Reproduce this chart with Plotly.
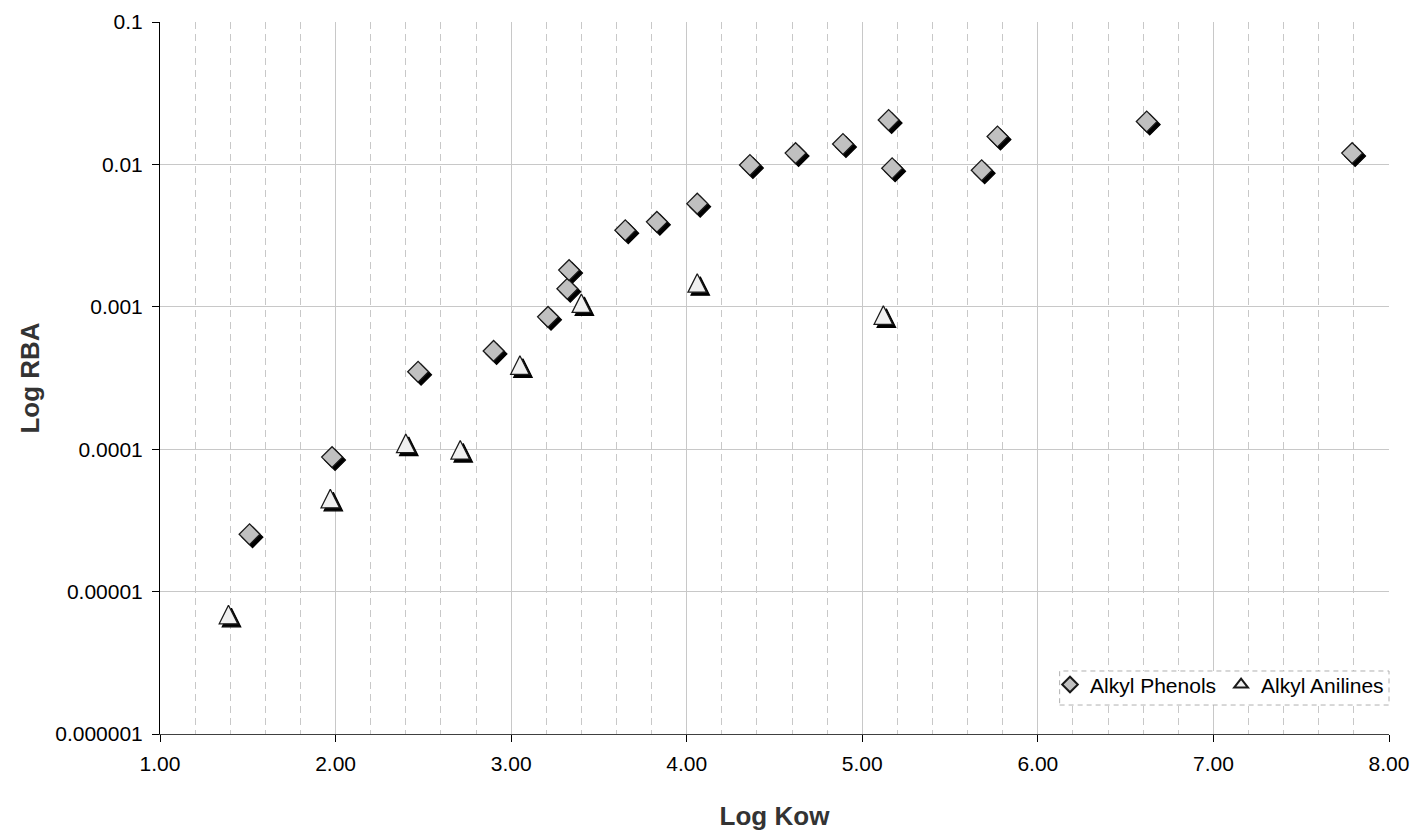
import plotly.graph_objects as go
import numpy as np

# ---- data ----
phenols_x = [1.51, 1.98, 2.47, 2.90, 3.21, 3.32, 3.33, 3.65, 3.83, 4.06, 4.36, 4.62, 4.89, 5.15, 5.17, 5.68, 5.77, 6.62, 7.79]
phenols_y = [2.53e-5, 8.8e-5, 3.5e-4, 4.9e-4, 8.5e-4, 1.34e-3, 1.81e-3, 3.45e-3, 3.95e-3, 5.3e-3, 9.9e-3, 1.2e-2, 1.39e-2, 2.05e-2, 9.4e-3, 9.1e-3, 1.57e-2, 2.0e-2, 1.2e-2]
anilines_x = [1.39, 1.97, 2.40, 2.71, 3.05, 3.40, 4.06, 5.12]
anilines_y = [6.9e-6, 4.5e-5, 1.1e-4, 9.9e-5, 3.9e-4, 1.06e-3, 1.47e-3, 8.75e-4]

ytick_vals = [1e-6, 1e-5, 1e-4, 1e-3, 1e-2, 1e-1]
ytick_text = ["0.000001", "0.00001", "0.0001", "0.001", "0.01", "0.1"]
xtick_vals = [1, 2, 3, 4, 5, 6, 7, 8]
xtick_text = ["1.00", "2.00", "3.00", "4.00", "5.00", "6.00", "7.00", "8.00"]

# ---- layout geometry ----
W, H = 1416, 837
ML, MR, MT, MB = 160, 27, 22, 103
XR = [1, 8]
YR = [-6, -1]
plot_w = W - ML - MR
plot_h = H - MT - MB
px_x = (XR[1] - XR[0]) / plot_w    # data units per pixel (x)
px_y = (YR[1] - YR[0]) / plot_h    # decades per pixel (y)

DIAM = 16
TRI = 18.5   # 'arrow-up' symbol: apex at point, base 2r below -> centre it

def shift(xs, ys, dpx, dpy):
    """move marks by (dpx, dpy) screen pixels (dpy>0 = downward)"""
    return [x + dpx * px_x for x in xs], [y * 10 ** (-dpy * px_y) for y in ys]

SH = 3  # shadow offset in px
tri_up = TRI / 2  # centre the arrow-up triangle on the value

fig = go.Figure()

sx, sy = shift(phenols_x, phenols_y, SH, SH)
fig.add_trace(go.Scatter(x=sx, y=sy, mode="markers", showlegend=False, hoverinfo="skip",
                         marker=dict(symbol="diamond", size=DIAM, color="black",
                                     line=dict(color="black", width=1.2))))
sx, sy = shift(anilines_x, anilines_y, SH, SH - tri_up)
fig.add_trace(go.Scatter(x=sx, y=sy, mode="markers", showlegend=False, hoverinfo="skip",
                         marker=dict(symbol="arrow-up", size=TRI, color="black",
                                     line=dict(color="black", width=1.2))))

fig.add_trace(go.Scatter(x=phenols_x, y=phenols_y, mode="markers", name="Alkyl Phenols",
                         marker=dict(symbol="diamond", size=DIAM, color="#C0C0C0",
                                     line=dict(color="#1a1a1a", width=1.3))))
tx, ty = shift(anilines_x, anilines_y, 0, -tri_up)
fig.add_trace(go.Scatter(x=tx, y=ty, mode="markers", name="Alkyl Anilines", showlegend=False,
                         customdata=anilines_y, hovertemplate="%{x}, %{customdata}<extra></extra>",
                         marker=dict(symbol="arrow-up", size=TRI, color="#F0F0F0",
                                     line=dict(color="#1a1a1a", width=1.3))))
# legend entry for the anilines
fig.add_trace(go.Scatter(x=[None], y=[None], mode="markers", name="Alkyl Anilines",
                         marker=dict(symbol="triangle-up", size=TRI, color="#F0F0F0",
                                     line=dict(color="#1a1a1a", width=1.3))))

fig.update_layout(
    width=W, height=H,
    margin=dict(l=ML, r=MR, t=MT, b=MB, autoexpand=False),
    paper_bgcolor="white", plot_bgcolor="white",
    font=dict(family="Liberation Sans, Arial", size=21, color="black"),
    showlegend=True,
    legend=dict(orientation="h", x=1.0, xanchor="right", y=0.069, yanchor="middle",
                bgcolor="rgba(0,0,0,0)", borderwidth=0, itemsizing="constant",
                itemwidth=30, font=dict(size=21, color="black"),
                tracegroupgap=0),
    shapes=[dict(type="rect", xref="paper", yref="paper",
                 x0=0.732, x1=1.0, y0=0.0407, y1=0.0885,
                 fillcolor="white", line=dict(color="#B0B0B0", width=1, dash="5px,4px"),
                 layer="above")],
)

fig.update_xaxes(
    type="linear", range=XR, tickvals=xtick_vals, ticktext=xtick_text,
    showgrid=True, gridcolor="#C8C8C8", gridwidth=1,
    minor=dict(dtick=0.2, tick0=1, showgrid=True, gridcolor="#C8C8C8", griddash="7px,5px", gridwidth=1),
    showline=True, linecolor="#404040", linewidth=1,
    ticks="outside", ticklen=7, tickcolor="black", ticklabelstandoff=4,
    zeroline=False, automargin=False,
    title=dict(text="Log Kow", font=dict(size=26, color="#333333", family="Liberation Sans, Arial", weight="bold"),
               standoff=32),
)
fig.update_yaxes(
    type="log", range=YR, tickvals=ytick_vals, ticktext=ytick_text,
    showgrid=True, gridcolor="#C8C8C8", gridwidth=1,
    showline=True, linecolor="black", linewidth=1,
    ticks="outside", ticklen=7, tickcolor="black", ticklabelstandoff=5,
    zeroline=False, automargin=False,
    title=dict(text="Log RBA", font=dict(size=26, color="#333333", family="Liberation Sans, Arial", weight="bold"),
               standoff=8),
)

fig.write_html("out.html")
